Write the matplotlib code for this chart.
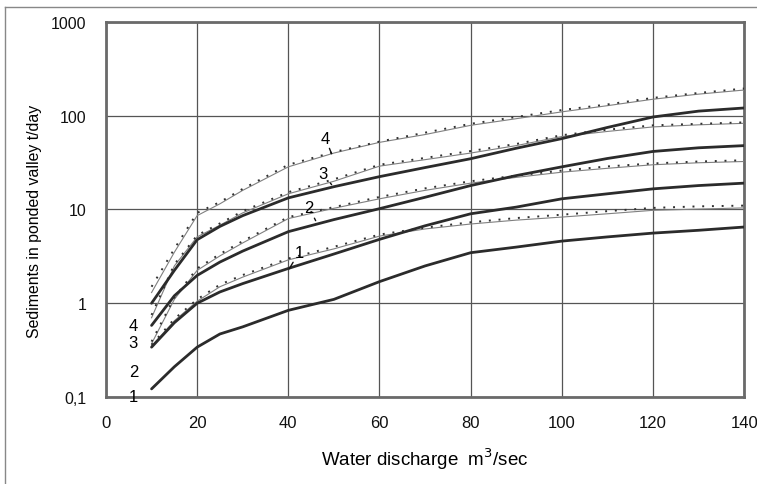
import matplotlib
matplotlib.use("Agg")
import matplotlib.pyplot as plt
from matplotlib.lines import Line2D
from matplotlib.ticker import FixedLocator, NullLocator

plt.rcParams["font.family"] = ["Liberation Sans", "DejaVu Sans"]

# water discharge, m3/sec
discharge = [10, 15, 20, 25, 30, 40, 50, 60, 70, 80, 90, 100, 110, 120, 130, 140]

# thick curves (labelled at the left, 1..4)
thick_1 = [0.122, 0.21, 0.34, 0.47, 0.56, 0.84, 1.1, 1.7, 2.5, 3.46, 3.97, 4.6, 5.1, 5.6, 6.0, 6.5]
thick_2 = [0.34, 0.62, 1.0, 1.32, 1.62, 2.35, 3.35, 4.8, 6.7, 9.0, 10.6, 13.0, 14.7, 16.6, 18.0, 19.1]
thick_3 = [0.58, 1.2, 1.98, 2.75, 3.6, 5.8, 7.8, 10.2, 13.5, 18.0, 23.0, 28.5, 35.0, 41.6, 45.5, 48.0]
thick_4 = [1.0, 2.24, 4.76, 6.6, 8.6, 13.3, 17.5, 22.4, 28.0, 34.8, 45.0, 57.0, 75.0, 97.0, 112.0, 121.0]

# thin solid curves (labelled on the curve, 1..4)
thin_1 = [0.35, 0.65, 1.05, 1.5, 1.9, 2.9, 3.8, 5.2, 6.2, 7.0, 7.7, 8.3, 9.0, 9.8, 10.1, 10.4]
thin_2 = [0.37, 1.1, 2.24, 3.2, 4.4, 8.0, 10.3, 13.0, 16.0, 19.1, 22.0, 25.0, 27.5, 30.0, 31.5, 32.5]
thin_3 = [0.7, 2.5, 5.1, 6.8, 9.2, 14.7, 20.0, 29.0, 34.0, 40.0, 48.0, 60.0, 68.0, 76.0, 80.0, 83.0]
thin_4 = [1.3, 3.5, 8.6, 11.5, 16.0, 28.5, 40.0, 52.0, 63.0, 79.0, 93.0, 110.0, 128.0, 150.0, 170.0, 188.0]

# dotted curves running along the thin ones
dot_1 = [0.36, 0.68, 1.1, 1.58, 2.0, 3.0, 4.0, 5.4, 6.4, 7.3, 8.1, 8.8, 9.6, 10.4, 10.8, 11.0]
dot_2 = [0.39, 1.15, 2.35, 3.35, 4.6, 8.3, 10.6, 13.6, 16.8, 20.0, 23.0, 26.0, 28.8, 31.0, 32.5, 33.5]
dot_3 = [0.75, 2.6, 5.3, 7.1, 9.6, 15.3, 21.0, 30.0, 35.5, 42.0, 50.0, 62.0, 71.0, 79.0, 82.0, 85.0]
dot_4 = [1.5, 3.8, 9.2, 12.0, 16.6, 30.0, 41.0, 53.0, 66.0, 82.0, 97.0, 115.0, 132.0, 155.0, 175.0, 195.0]

y_ticks = [0.1, 1, 10, 100, 1000]
y_tick_labels = ["0,1", "1", "10", "100", "1000"]
x_ticks = [0, 20, 40, 60, 80, 100, 120, 140]

# curve labels: (text, label position, leader end)
curve_labels = [
    ("4", (48.1, 57.8), (49.5, 39.3)),
    ("3", (47.6, 24.1), (49.5, 18.4)),
    ("2", (44.6, 10.4), (46.0, 7.6)),
    ("1", (42.4, 3.52), (40.2, 2.33)),
]
left_labels = [("4", 0.58), ("3", 0.379), ("2", 0.187), ("1", 0.1)]

fig = plt.figure(figsize=(7.57, 4.85), dpi=100)
ax = fig.add_axes([0.140, 0.1794, 0.843, 0.7732])

for ys in (thin_1, thin_2, thin_3, thin_4):
    ax.plot(discharge, ys, color="#808080", lw=0.8, zorder=3)
for ys in (dot_1, dot_2, dot_3, dot_4):
    ax.plot(discharge, ys, color="#303030", lw=1.4, ls=(0, (1, 4)), zorder=3)
for ys in (thick_1, thick_2, thick_3, thick_4):
    ax.plot(discharge, ys, color="#2b2b2b", lw=2.0, zorder=4, solid_capstyle="round")

ax.set_yscale("log")
ax.set_ylim(0.1, 1000)
ax.set_xlim(0, 140)
ax.yaxis.set_major_locator(FixedLocator(y_ticks))
ax.yaxis.set_minor_locator(NullLocator())
ax.set_yticklabels(y_tick_labels)
ax.set_xticks(x_ticks)
ax.tick_params(axis="both", length=0, colors="#111111")
ax.tick_params(axis="y", pad=14, labelsize=11.5)
ax.tick_params(axis="x", pad=13, labelsize=12)
ax.grid(True, color="#555555", lw=0.9)
ax.set_axisbelow(True)
for sp in ax.spines.values():
    sp.set_color("#6a6a6a")
    sp.set_linewidth(2.0)

ax.set_xlabel("Water discharge  m$^3$/sec", fontsize=13.5, labelpad=11)
ax.set_ylabel("Sediments in ponded valley t/day", fontsize=11.4)
ax.yaxis.set_label_coords(-0.1, 0.47)

for txt, pos, end in curve_labels:
    ax.annotate(txt, xy=end, xytext=pos, ha="center", va="center", fontsize=12,
                arrowprops=dict(arrowstyle="-", color="#111111", lw=1.0, shrinkA=0, shrinkB=0),
                zorder=6)
for txt, yv in left_labels:
    ax.text(6.0, yv, txt, ha="center", va="center", fontsize=12, zorder=6, clip_on=False)

# outer frame of the original picture
fig.add_artist(Line2D([5 / 757, 5 / 757], [0, 1 - 8 / 485], color="#888888", lw=1.0))
fig.add_artist(Line2D([5 / 757, 1], [1 - 8 / 485, 1 - 8 / 485], color="#888888", lw=1.0))

fig.savefig("out.png", dpi=100)
